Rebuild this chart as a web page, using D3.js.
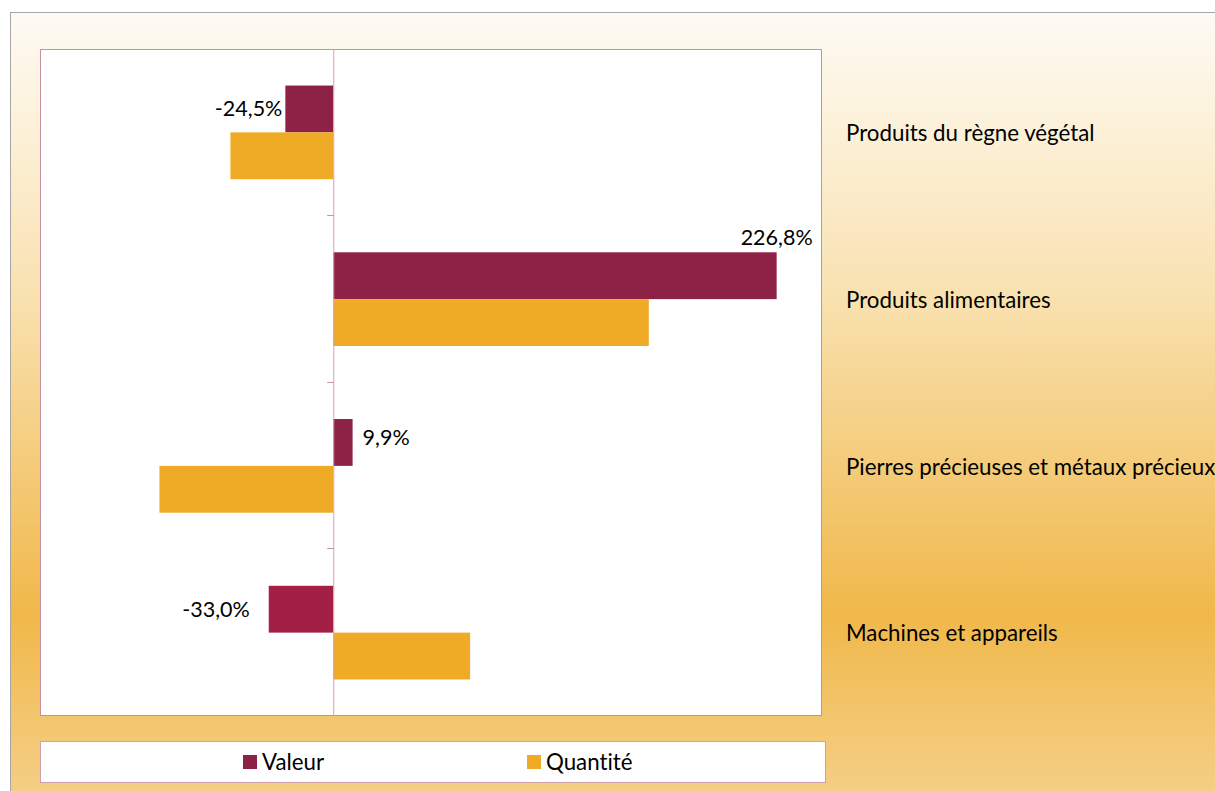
<!DOCTYPE html>
<html><head><meta charset="utf-8">
<script src="https://cdn.jsdelivr.net/npm/d3@7"></script>
<style>html,body{margin:0;padding:0;background:#fff;}svg{display:block;}text{font-family:Lato,"Open Sans",sans-serif;font-variant-ligatures:none;font-feature-settings:"liga" 0;}</style>
</head><body>
<svg id="c" width="1215" height="791"></svg>
<script>
const categories = ["Produits du règne végétal","Produits alimentaires","Pierres précieuses et métaux précieux","Machines et appareils"];
const seriesNames = ["Valeur","Quantité"];
const valeur = [-24.5, 226.8, 9.9, -33.0];
const quantite = [-52.6, 161.4, -88.9, 70.0];
const valeurLabels = ["-24,5%","226,8%","9,9%","-33,0%"];
const xDomain = [-150, 250];

// layout tweak: gap between bar end and its data label (px)
const labelGap = [3, 0, 10, 19];

const W = 1215, H = 791;
const svg = d3.select("#c");
const defs = svg.append("defs");
const g = defs.append("linearGradient").attr("id","bg").attr("x1",0).attr("y1",0).attr("x2",0).attr("y2",1);
[[0,"#fefbf4"],[0.35,"#f9e2b2"],[0.76,"#f0b84a"],[1,"#f5d08a"]].forEach(([o,c])=>g.append("stop").attr("offset",o).attr("stop-color",c));
svg.append("rect").attr("x",10.5).attr("y",12.5).attr("width",W).attr("height",H).attr("fill","url(#bg)").attr("stroke","#a6a6a6").attr("stroke-width",1);

const plot = {l:40, t:49, r:822, b:716};
svg.append("rect").attr("x",plot.l+0.5).attr("y",plot.t+0.5).attr("width",plot.r-plot.l-1).attr("height",plot.b-plot.t-1)
  .attr("fill","#fff").attr("stroke","#c98ea0").attr("stroke-width",1);

const x = d3.scaleLinear().domain(xDomain).range([plot.l, plot.r]);
const y0 = d3.scaleBand().domain(categories).range([plot.t, plot.b]).padding(0);
const y1 = d3.scaleBand().domain(seriesNames).range([0, y0.bandwidth()]).paddingInner(0).paddingOuter(0.78);
const colors = {"Valeur":"#8e2146","Quantité":"#efab25"};

const data = categories.map((c,i)=>({cat:c, vals:[{s:"Valeur",v:valeur[i],lab:valeurLabels[i]},{s:"Quantité",v:quantite[i]}]}));

const groups = svg.append("g").selectAll("g").data(data).join("g").attr("transform",d=>`translate(0,${y0(d.cat)})`);
groups.selectAll("rect").data(d=>d.vals).join("rect")
  .attr("x",d=>x(Math.min(0,d.v))).attr("y",d=>y1(d.s)).attr("width",d=>Math.abs(x(d.v)-x(0))).attr("height",y1.bandwidth())
  .attr("fill",(d)=> d.s==="Valeur" && d.v<-30 ? "#a31f46" : colors[d.s]);

// axis at zero
const ax = svg.append("g").attr("transform",`translate(${x(0)},0)`);
ax.append("line").attr("x1",0.5).attr("x2",0.5).attr("y1",plot.t).attr("y2",plot.b).attr("stroke","#d9a0b4").attr("stroke-width",1);
const tickYs = categories.map(c=>y0(c)+y0.step());
ax.selectAll("line.tk").data(tickYs).join("line").attr("class","tk")
  .attr("x1",-6).attr("x2",0.5).attr("y1",d=>Math.round(d)-0.5).attr("y2",d=>Math.round(d)-0.5).attr("stroke","#c98ea0");

// labels
const numFs = 21.5, catFs = 22.3;
data.forEach((d,i)=>{
  const v = d.vals[0];
  const yc = y0(d.cat) + y1("Valeur") + y1.bandwidth()/2;
  let tx, ty, anchor;
  const gap = labelGap[i];
  if (v.v >= 0) {
    tx = x(v.v) + gap; anchor = "start"; ty = yc;
    if (x(v.v) + 8 + 72 > plot.r) { tx = x(v.v); anchor = "middle"; ty = y0(d.cat) + y1("Valeur") - 15; }
    else ty = yc - 5;
  } else { tx = x(v.v) - gap; anchor = "end"; ty = yc; }
  svg.append("text").attr("x",tx).attr("y",ty).attr("dy","0.35em").attr("text-anchor",anchor)
    .attr("font-size",numFs).attr("fill","#000").text(v.lab);
});

// category labels on right
svg.append("g").selectAll("text").data(categories).join("text")
  .attr("x",846).attr("y",d=>y0(d)+y0.bandwidth()/2+1).attr("dy","0.35em")
  .attr("font-size",catFs).attr("fill","#000").text(d=>d);

// legend
svg.append("rect").attr("x",40.5).attr("y",741.5).attr("width",785).attr("height",41).attr("fill","#fff").attr("stroke","#d0a0a8");
const legX = [243, 527];
seriesNames.forEach((s,i)=>{
  svg.append("rect").attr("x",legX[i]).attr("y",755).attr("width",14).attr("height",14).attr("fill",colors[s]);
  svg.append("text").attr("x",legX[i]+19).attr("y",762).attr("dy","0.35em").attr("font-size",catFs).attr("fill","#000").text(s);
});
</script>
</body></html>
